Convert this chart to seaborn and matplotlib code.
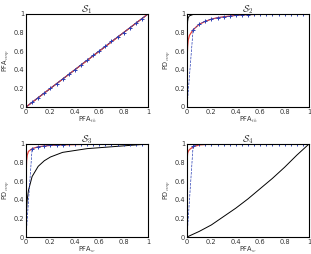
import numpy as np
import pandas as pd
import matplotlib
matplotlib.use('Agg')
import matplotlib.pyplot as plt
import seaborn as sns

# grid of theoretical PFA values where the empirical points (+) were taken
grid = [0, 0.05, 0.1, 0.15, 0.2, 0.25, 0.3, 0.35, 0.4, 0.45, 0.5,
        0.55, 0.6, 0.65, 0.7, 0.75, 0.8, 0.85, 0.9, 0.95, 1]

# S1: false alarm calibration (all on the diagonal)
s1_red_x = [0, 1]
s1_red_y = [0, 1]
s1_black_x = [0, 1]
s1_black_y = [0, 1]
s1_blue_y = [0, 0.05, 0.1, 0.15, 0.2, 0.25, 0.3, 0.35, 0.4, 0.455, 0.505,
             0.555, 0.605, 0.655, 0.705, 0.755, 0.8, 0.85, 0.9, 0.95, 1]

# S2
s2_red_x = [0, 0.002, 0.005, 0.01, 0.02, 0.05, 0.1, 0.15, 0.2, 0.25, 0.3, 0.4, 0.5, 0.6, 0.8, 1]
s2_red_y = [0, 0.55, 0.65, 0.72, 0.77, 0.83, 0.89, 0.92, 0.945, 0.96, 0.97, 0.985, 0.993, 0.997, 1, 1]
s2_black_x = [0, 0.002, 0.005, 0.01, 0.02, 0.05, 0.1, 1]
s2_black_y = [0, 0.8, 0.92, 0.96, 0.98, 0.995, 1, 1]
s2_blue_y = [0, 0.83, 0.89, 0.925, 0.945, 0.96, 0.97, 0.978, 0.985, 0.99, 0.993,
             0.995, 0.997, 0.998, 0.999, 1, 1, 1, 1, 1, 1]

# S3
s3_red_x = [0, 0.002, 0.005, 0.01, 0.02, 0.05, 0.1, 0.2, 0.3, 0.5, 1]
s3_red_y = [0, 0.7, 0.82, 0.88, 0.92, 0.95, 0.97, 0.985, 0.99, 0.997, 1]
s3_black_x = [0, 0.005, 0.01, 0.02, 0.05, 0.1, 0.15, 0.2, 0.3, 0.4, 0.5, 0.6, 0.7, 0.8, 0.9, 1]
s3_black_y = [0, 0.3, 0.4, 0.5, 0.65, 0.76, 0.82, 0.86, 0.91, 0.93, 0.95, 0.96, 0.97, 0.98, 0.99, 1]
s3_blue_y = [0, 0.95, 0.97, 0.98, 0.985, 0.99, 0.993, 0.995, 0.997, 0.998, 0.999,
             1, 1, 1, 1, 1, 1, 1, 1, 1, 1]

# S4
s4_red_x = [0, 0.002, 0.005, 0.01, 0.02, 0.05, 0.1, 0.2, 1]
s4_red_y = [0, 0.85, 0.9, 0.92, 0.94, 0.97, 0.99, 1, 1]
s4_black_x = [0, 0.1, 0.2, 0.3, 0.4, 0.5, 0.6, 0.7, 0.8, 0.9, 1]
s4_black_y = [0, 0.06, 0.13, 0.22, 0.31, 0.41, 0.52, 0.63, 0.75, 0.88, 1]
s4_blue_y = [0, 0.98, 0.995, 1, 1, 1, 1, 1, 1, 1, 1,
             1, 1, 1, 1, 1, 1, 1, 1, 1, 1]

panels = [
    (r'$\mathcal{S}_1$', r'PFA$_{th}$', r'PFA$_{emp}$',
     s1_red_x, s1_red_y, s1_black_x, s1_black_y, s1_blue_y),
    (r'$\mathcal{S}_2$', r'PFA$_{th}$', r'PD$_{emp}$',
     s2_red_x, s2_red_y, s2_black_x, s2_black_y, s2_blue_y),
    (r'$\mathcal{S}_3$', r'PFA$_{w}$', r'PD$_{emp}$',
     s3_red_x, s3_red_y, s3_black_x, s3_black_y, s3_blue_y),
    (r'$\mathcal{S}_4$', r'PFA$_{w}$', r'PD$_{emp}$',
     s4_red_x, s4_red_y, s4_black_x, s4_black_y, s4_blue_y),
]

sns.set_style('white')
plt.rcParams.update({
    'font.family': ['DejaVu Sans'],
    'xtick.direction': 'in', 'ytick.direction': 'in',
    'xtick.major.size': 2, 'ytick.major.size': 2,
    'xtick.major.width': 0.5, 'ytick.major.width': 0.5,
    'xtick.major.pad': 1.5, 'ytick.major.pad': 1.5,
    'axes.edgecolor': 'black', 'axes.linewidth': 0.8,
    'mathtext.fontset': 'cm',
})

fig = plt.figure(figsize=(3.11, 2.54), dpi=100)
boxes = [(26, 14), (187, 14), (26, 144), (187, 144)]
W, H = 311, 254
for (title, xl, yl, rx, ry, kx, ky, by), (left, top) in zip(panels, boxes):
    ax = fig.add_axes([left / W, 1 - (top + 93) / H, 122 / W, 93 / H])
    sns.lineplot(x=kx, y=ky, ax=ax, color='black', lw=0.7, sort=False)
    sns.lineplot(x=rx, y=ry, ax=ax, color='#e8413c', lw=0.9, sort=False)
    sns.lineplot(x=grid, y=by, ax=ax, color='#2a3fb5', lw=0.5, ls='--',
                 marker='+', markersize=3.5, markeredgewidth=0.7,
                 markeredgecolor='#2a3fb5', sort=False)
    ax.set_xlim(0, 1)
    ax.set_ylim(0, 1)
    ax.set_xticks([0, 0.2, 0.4, 0.6, 0.8, 1])
    ax.set_xticklabels(['0', '0.2', '0.4', '0.6', '0.8', '1'])
    ax.set_yticks([0, 0.2, 0.4, 0.6, 0.8, 1])
    ax.set_yticklabels(['0', '0.2', '0.4', '0.6', '0.8', '1'])
    ax.tick_params(labelsize=4.8, colors='black', labelcolor='#333333')
    ax.set_title(title, fontsize=7, pad=1.5)
    ax.set_xlabel(xl, fontsize=4.8, labelpad=0, color='#333333')
    ax.set_ylabel(yl, fontsize=4.8, labelpad=1, color='#333333')

fig.savefig('out.png', dpi=100)
